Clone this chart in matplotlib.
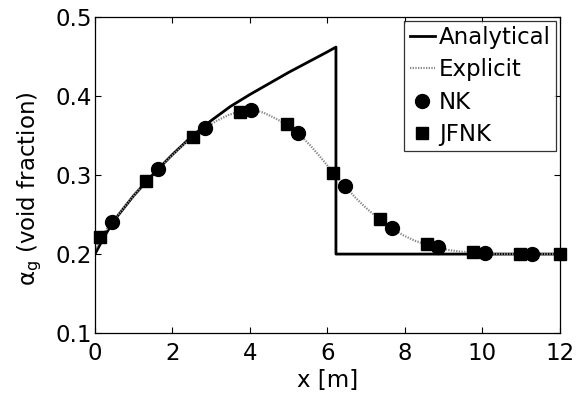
import matplotlib
matplotlib.use("Agg")
import matplotlib.pyplot as plt

plt.rcParams['font.family'] = ['DejaVu Sans']
plt.rcParams['mathtext.fontset'] = 'custom'
plt.rcParams['mathtext.rm'] = 'DejaVu Sans'
plt.rcParams['mathtext.it'] = 'DejaVu Sans'

# Analytical solution (shock at x ~ 6.22 m)
x_analytical = [0.0, 0.25, 0.5, 1.0, 1.5, 2.0, 2.5, 3.0, 3.5, 4.0, 4.5, 5.0, 5.5, 6.0, 6.22,
                6.22, 12.0]
a_analytical = [0.200, 0.223, 0.243, 0.274, 0.301, 0.326, 0.349, 0.369, 0.387, 0.402, 0.416,
                0.430, 0.443, 0.456, 0.462, 0.200, 0.200]

# Explicit scheme
x_explicit = [0.0, 0.15, 0.45, 0.75, 1.05, 1.35, 1.65, 1.95, 2.25, 2.55, 2.85, 3.15, 3.45,
              3.75, 4.05, 4.35, 4.65, 4.95, 5.25, 5.55, 5.85, 6.15, 6.45, 6.75, 7.05,
              7.35, 7.65, 7.95, 8.25, 8.55, 8.85, 9.15, 9.45, 9.75, 10.05, 10.5, 11.0, 12.0]
a_explicit = [0.205, 0.221, 0.241, 0.259, 0.277, 0.293, 0.308, 0.323, 0.337, 0.349, 0.360,
              0.369, 0.376, 0.381, 0.383, 0.379, 0.372, 0.364, 0.353, 0.338, 0.321, 0.303,
              0.286, 0.270, 0.256, 0.244, 0.233, 0.224, 0.217, 0.212, 0.208, 0.205, 0.203,
              0.202, 0.201, 0.200, 0.200, 0.200]

# Newton-Krylov
x_nk = [0.43, 1.63, 2.84, 4.04, 5.25, 6.45, 7.66, 8.86, 10.06, 11.27]
a_nk = [0.241, 0.308, 0.360, 0.383, 0.353, 0.286, 0.233, 0.209, 0.201, 0.200]

# Jacobian-free Newton-Krylov
x_jfnk = [0.13, 1.33, 2.54, 3.74, 4.95, 6.15, 7.35, 8.56, 9.76, 10.97, 12.0]
a_jfnk = [0.221, 0.292, 0.348, 0.380, 0.365, 0.303, 0.244, 0.213, 0.202, 0.200, 0.200]

x_ticks = [0, 2, 4, 6, 8, 10, 12]
y_ticks = [0.1, 0.2, 0.3, 0.4, 0.5]

FS = 16.5

fig = plt.figure(figsize=(5.79, 3.97), dpi=100)
ax = fig.add_axes([0.164, 0.161, 0.803, 0.796])

ax.plot(x_analytical, a_analytical, color='black', lw=2.0, label='Analytical')
ax.plot(x_explicit, a_explicit, color='#8a8a8a', lw=1.6, linestyle=(0, (0.6, 0.6)),
        label='Explicit')
ax.plot(x_nk, a_nk, 'o', color='black', ms=10, label='NK', clip_on=False)
ax.plot(x_jfnk, a_jfnk, 's', color='black', ms=8.5, label='JFNK', clip_on=False)

ax.set_xlim(0, 12)
ax.set_ylim(0.1, 0.5)
ax.set_xticks(x_ticks)
ax.set_yticks(y_ticks)
ax.set_xticklabels([str(t) for t in x_ticks])
ax.set_yticklabels([f'{t:.1f}' for t in y_ticks])
ax.tick_params(direction='in', top=True, right=True, length=4, width=0.8,
               labelsize=FS)
ax.tick_params(axis='x', pad=6.5)
ax.tick_params(axis='y', pad=2)
for s in ax.spines.values():
    s.set_linewidth(0.9)

ax.set_xlabel('x [m]', fontsize=FS, labelpad=2.5)
ax.set_ylabel(r'$\alpha_g$ (void fraction)', fontsize=FS)
ax.yaxis.set_label_coords(-0.109, 0.457)

leg = ax.legend(loc='upper right', fontsize=FS, frameon=True, fancybox=False,
                edgecolor='black', handlelength=1.1, handletextpad=0.17,
                borderpad=0.25, labelspacing=0.4, numpoints=1,
                borderaxespad=0.15)
leg.get_frame().set_linewidth(0.9)

fig.savefig('out.png', dpi=100)
